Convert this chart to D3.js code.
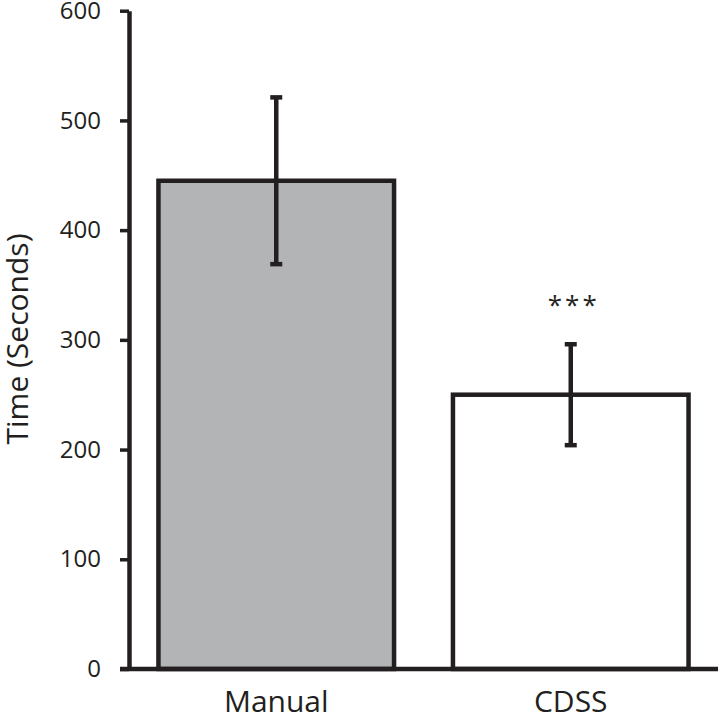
<!DOCTYPE html>
<html>
<head>
<meta charset="utf-8">
<script src="https://cdn.jsdelivr.net/npm/d3@7"></script>
<style>
  body { margin: 0; background: #fff; }
  svg { display: block; }
  text { font-family: "Open Sans", sans-serif; fill: #231f20; }
</style>
</head>
<body>
<svg id="canvas" width="721" height="720"></svg>
<script>
// values
const groups = ["Manual", "CDSS"];
const means = [445, 250];
const errors = [76, 46];
const fills = ["#b3b4b5", "#ffffff"];
const marks = ["", "***"];
const yTicks = [0, 100, 200, 300, 400, 500, 600];

const ink = "#231f20";
let svg = d3.select("#canvas");

let x = d3.scaleBand().domain(groups).range([129, 718]).paddingInner(0.2).paddingOuter(0.1);
let y = d3.scaleLinear().domain([0, 600]).range([669, 10.7]);

// bars
svg.selectAll("rect.bar").data(groups).join("rect")
  .attr("class", "bar")
  .attr("x", d => x(d))
  .attr("y", (d, i) => y(means[i]))
  .attr("width", x.bandwidth())
  .attr("height", (d, i) => y(0) - y(means[i]))
  .attr("fill", (d, i) => fills[i])
  .attr("stroke", ink).attr("stroke-width", 4.5);

// error bars
let eb = svg.selectAll("g.err").data(groups).join("g").attr("class", "err")
  .attr("transform", d => `translate(${x(d) + x.bandwidth() / 2},0)`);
eb.append("line")
  .attr("y1", (d, i) => y(means[i] + errors[i]))
  .attr("y2", (d, i) => y(means[i] - errors[i]))
  .attr("stroke", ink).attr("stroke-width", 4.5);
eb.each(function(d, i) {
  let g = d3.select(this);
  [means[i] + errors[i], means[i] - errors[i]].forEach(v => {
    g.append("line").attr("x1", -6).attr("x2", 6)
      .attr("y1", y(v)).attr("y2", y(v))
      .attr("stroke", ink).attr("stroke-width", 4.5);
  });
});

// significance marks
svg.selectAll("text.sig").data(groups).join("text")
  .attr("class", "sig")
  .attr("x", d => x(d) + x.bandwidth() / 2 + 3)
  .attr("y", (d, i) => y(means[i] + errors[i]) - 30)
  .attr("text-anchor", "middle")
  .style("font-size", "26px")
  .style("letter-spacing", "3px")
  .text((d, i) => marks[i]);

// y axis
let yAxis = svg.append("g").attr("transform", "translate(129,0)")
  .call(d3.axisLeft(y).tickValues(yTicks).tickSize(9).tickPadding(19).tickSizeOuter(0));
yAxis.select(".domain").attr("stroke", ink).attr("stroke-width", 4.5);
yAxis.selectAll(".tick line").attr("stroke", ink).attr("stroke-width", 3.5);
yAxis.selectAll(".tick text").style("font-size", "24px").style("font-family", "Open Sans").attr("fill", ink);

// x axis baseline
let xAxis = svg.append("g").attr("transform", "translate(0,669)")
  .call(d3.axisBottom(x).tickSize(0).tickPadding(22).tickSizeOuter(0));
xAxis.select(".domain").attr("d", "M120,0H718").attr("stroke", ink).attr("stroke-width", 4.5);
xAxis.selectAll(".tick text").style("font-size", "30px").style("font-family", "Open Sans").attr("fill", ink);

// y title
svg.append("text")
  .attr("transform", "translate(28,339) rotate(-90)")
  .attr("text-anchor", "middle")
  .style("font-size", "30px")
  .text("Time (Seconds)");
</script>
</body>
</html>
